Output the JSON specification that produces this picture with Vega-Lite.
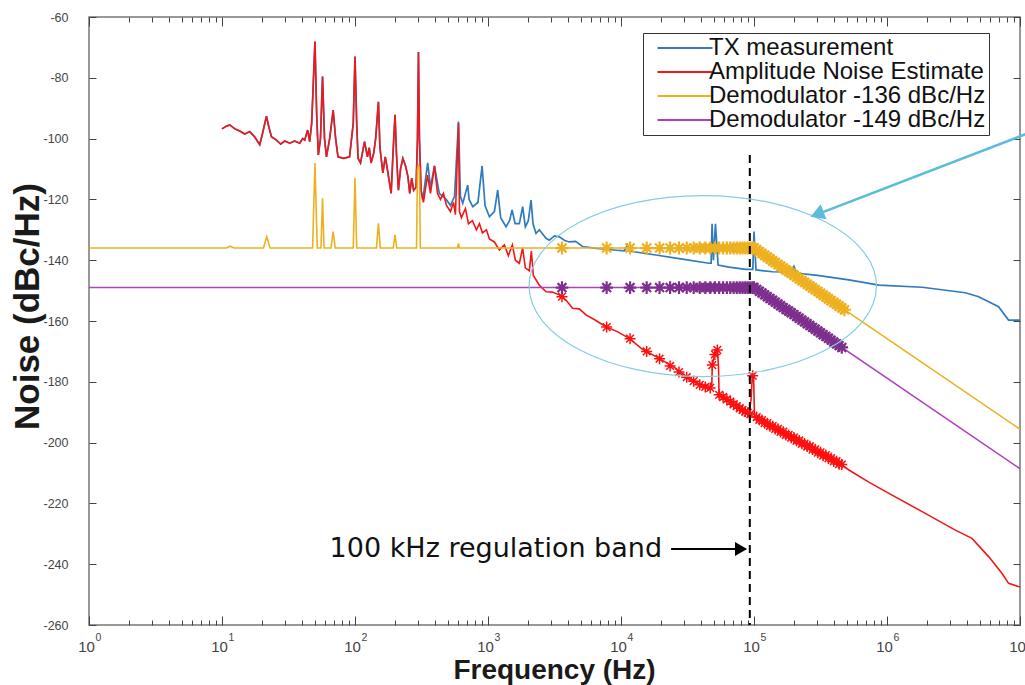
{
 "$schema": "https://vega.github.io/schema/vega-lite/v6.json",
 "width": 931, "height": 608,
 "autosize": "none",
 "padding": {"left": 89, "top": 17, "right": 5, "bottom": 60},
 "background": "white",
 "config": {"font": "Liberation Sans", "view": {"stroke": "#777", "strokeWidth": 1.5}},
 "resolve": {"axis": {"x": "independent", "y": "independent"}},
 "datasets": {
  "tx": [
   {"f":10,"v":-96.8},{"f":10.68,"v":-96},{"f":11.44,"v":-95.5},{"f":12.48,"v":-96.8},{"f":13.6,"v":-97.5},{"f":14.84,"v":-98.5},{"f":16.17,"v":-97.7},{"f":17.63,"v":-99.5},{"f":19.22,"v":-102},{"f":20.25,"v":-98},{"f":21.59,"v":-92.6},{"f":22.46,"v":-96},{"f":23.53,"v":-99.4},{"f":25.66,"v":-100.5},{"f":27.63,"v":-101.8},{"f":29.62,"v":-100.8},{"f":32.28,"v":-101.5},{"f":35.19,"v":-100.8},{"f":38.38,"v":-101.5},{"f":40.43,"v":-100},{"f":41.85,"v":-100.5},{"f":44.07,"v":-97.2},{"f":45.62,"v":-101},{"f":47.23,"v":-95},{"f":50,"v":-68.1},{"f":51.5,"v":-92},{"f":53,"v":-105.4},{"f":55,"v":-100},{"f":57,"v":-79.6},{"f":59,"v":-100},{"f":61,"v":-106},{"f":64.5,"v":-100},{"f":68.5,"v":-90.6},{"f":71.5,"v":-100},{"f":74.5,"v":-106},{"f":82,"v":-106.5},{"f":91,"v":-106},{"f":97,"v":-95},{"f":100,"v":-73},{"f":103,"v":-95},{"f":105.5,"v":-106.5},{"f":110,"v":-108},{"f":118,"v":-101},{"f":124,"v":-106},{"f":128,"v":-103},{"f":132,"v":-108},{"f":138,"v":-105},{"f":143,"v":-100},{"f":150,"v":-87.9},{"f":154,"v":-103},{"f":162,"v":-111.3},{"f":169,"v":-106},{"f":175,"v":-110},{"f":187,"v":-118},{"f":193,"v":-105},{"f":200,"v":-92.2},{"f":205,"v":-105},{"f":212,"v":-117},{"f":220,"v":-110},{"f":229,"v":-106.5},{"f":240,"v":-109},{"f":250,"v":-112.5},{"f":258,"v":-118},{"f":267,"v":-113},{"f":276,"v":-117},{"f":288,"v":-116},{"f":295,"v":-100},{"f":300,"v":-71.5},{"f":305,"v":-100},{"f":314,"v":-117},
   {"f":323,"v":-120.2},{"f":352,"v":-108},{"f":369.5,"v":-116},{"f":396,"v":-109},{"f":430,"v":-118},{"f":485,"v":-120},{"f":522,"v":-122},{"f":560,"v":-119},{"f":600,"v":-94.4},{"f":620,"v":-119},{"f":646,"v":-121.3},{"f":677,"v":-118},{"f":704,"v":-115.3},{"f":721,"v":-120},{"f":768,"v":-122.4},{"f":840,"v":-121},{"f":903,"v":-109},{"f":950,"v":-122},{"f":1025,"v":-125.7},{"f":1117,"v":-124},{"f":1183,"v":-116.9},{"f":1245,"v":-126},{"f":1367,"v":-129},{"f":1452,"v":-127},{"f":1517,"v":-123.5},{"f":1600,"v":-128},{"f":1721,"v":-128},{"f":1822,"v":-122.4},{"f":1909,"v":-129},{"f":2010,"v":-127},{"f":2107,"v":-120.2},{"f":2180,"v":-128},{"f":2296,"v":-131.2},{"f":2432,"v":-130},{"f":2731,"v":-132.8},{"f":2890,"v":-133.4},{"f":3160,"v":-132},{"f":3436,"v":-132.3},{"f":3770,"v":-133.5},{"f":4083,"v":-134},{"f":4550,"v":-133.8},{"f":5140,"v":-135.5},{"f":6293,"v":-136},{"f":7702,"v":-136.4},{"f":9700,"v":-136.8},{"f":10600,"v":-136.9},{"f":11190,"v":-135},{"f":11520,"v":-137},{"f":18280,"v":-138.3},{"f":27350,"v":-139.5},{"f":45940,"v":-141},{"f":47600,"v":-141},{"f":48400,"v":-128},{"f":49500,"v":-140},{"f":51300,"v":-128},{"f":53700,"v":-141.6},{"f":64900,"v":-142.3},{"f":86700,"v":-143},{"f":98000,"v":-143},{"f":100000,"v":-130.6},{"f":103500,"v":-143.2},{"f":137200,"v":-143.8},{"f":190000,"v":-143.9},{"f":199700,"v":-142},{"f":210000,"v":-144.3},{"f":290500,"v":-144.9},{"f":516900,"v":-146.5},{"f":868500,"v":-148.2},{"f":1836000,"v":-148.9},{"f":3880000,"v":-150.7},{"f":4890000,"v":-152},{"f":6900000,"v":-155.3},{"f":8200000,"v":-159.7},{"f":10000000,"v":-159.7}
  ],
  "amp": [
   {"f":10,"v":-96.8},{"f":10.68,"v":-96},{"f":11.44,"v":-95.5},{"f":12.48,"v":-96.8},{"f":13.6,"v":-97.5},{"f":14.84,"v":-98.5},{"f":16.17,"v":-97.7},{"f":17.63,"v":-99.5},{"f":19.22,"v":-102},{"f":20.25,"v":-98},{"f":21.59,"v":-92.6},{"f":22.46,"v":-96},{"f":23.53,"v":-99.4},{"f":25.66,"v":-100.5},{"f":27.63,"v":-101.8},{"f":29.62,"v":-100.8},{"f":32.28,"v":-101.5},{"f":35.19,"v":-100.8},{"f":38.38,"v":-101.5},{"f":40.43,"v":-100},{"f":41.85,"v":-100.5},{"f":44.07,"v":-97.2},{"f":45.62,"v":-101},{"f":47.23,"v":-95},{"f":50,"v":-68.1},{"f":51.5,"v":-92},{"f":53,"v":-105.4},{"f":55,"v":-100},{"f":57,"v":-79.6},{"f":59,"v":-100},{"f":61,"v":-106},{"f":64.5,"v":-100},{"f":68.5,"v":-90.6},{"f":71.5,"v":-100},{"f":74.5,"v":-106},{"f":82,"v":-106.5},{"f":91,"v":-106},{"f":97,"v":-95},{"f":100,"v":-73},{"f":103,"v":-95},{"f":105.5,"v":-106.5},{"f":110,"v":-108},{"f":118,"v":-101},{"f":124,"v":-106},{"f":128,"v":-103},{"f":132,"v":-108},{"f":138,"v":-105},{"f":143,"v":-100},{"f":150,"v":-87.9},{"f":154,"v":-103},{"f":162,"v":-111.3},{"f":169,"v":-106},{"f":175,"v":-110},{"f":187,"v":-118},{"f":193,"v":-105},{"f":200,"v":-92.2},{"f":205,"v":-105},{"f":212,"v":-117},{"f":220,"v":-110},{"f":229,"v":-106.5},{"f":240,"v":-109},{"f":250,"v":-112.5},{"f":258,"v":-118},{"f":267,"v":-113},{"f":276,"v":-117},{"f":288,"v":-116},{"f":295,"v":-100},{"f":300,"v":-71.5},{"f":305,"v":-100},{"f":314,"v":-117},
   {"f":327,"v":-121},{"f":351,"v":-112},{"f":369.5,"v":-118},{"f":396,"v":-109},{"f":417,"v":-118},{"f":439,"v":-120},{"f":462.7,"v":-118},{"f":487.3,"v":-122},{"f":522,"v":-124},{"f":550,"v":-121},{"f":569,"v":-125},{"f":600,"v":-95},{"f":610,"v":-124},{"f":631,"v":-126},{"f":677,"v":-123},{"f":713,"v":-128},{"f":764,"v":-127},{"f":818,"v":-130},{"f":862,"v":-128},{"f":908,"v":-131},{"f":973,"v":-130},{"f":1025,"v":-133},{"f":1117,"v":-134},{"f":1218,"v":-136.6},{"f":1328,"v":-135},{"f":1423,"v":-138.5},{"f":1525,"v":-135},{"f":1606,"v":-140},{"f":1721,"v":-141},{"f":1822,"v":-136},{"f":1909,"v":-142.5},{"f":2046,"v":-143.5},{"f":2118,"v":-137},{"f":2192,"v":-145},{"f":2432,"v":-148.2},{"f":2731,"v":-150.4},{"f":3045,"v":-150.5},{"f":3436,"v":-151.4},{"f":3857,"v":-153.1},{"f":4324,"v":-155.8},{"f":4856,"v":-156},{"f":5452,"v":-158},{"f":6293,"v":-159.5},{"f":7702,"v":-161.9},{"f":9365,"v":-163.5},{"f":11525,"v":-165.7},{"f":14503,"v":-169.3},{"f":19360,"v":-172.3},{"f":25840,"v":-175.6},{"f":30710,"v":-178.3},{"f":39800,"v":-181.1},{"f":45940,"v":-182.1},{"f":48100,"v":-181.5},{"f":48600,"v":-174.5},{"f":50900,"v":-170.5},{"f":53000,"v":-169},{"f":54100,"v":-175},{"f":54600,"v":-184.3},{"f":57800,"v":-184.9},{"f":70800,"v":-187.5},{"f":91700,"v":-190.4},{"f":95000,"v":-186},{"f":97100,"v":-178},{"f":99200,"v":-178},{"f":100900,"v":-191.5},{"f":154500,"v":-195.3},{"f":217800,"v":-199.2},{"f":307600,"v":-203.2},{"f":460000,"v":-207.4},{"f":516800,"v":-209},{"f":730000,"v":-213},{"f":1033000,"v":-216.7},{"f":1836000,"v":-222.7},{"f":3266000,"v":-228.8},{"f":4355000,"v":-231.5},{"f":5810000,"v":-237.5},{"f":7310000,"v":-243},{"f":8210000,"v":-246.3},{"f":10000000,"v":-247.5}
  ],
  "d136": [
   {"f":1,"v":-136},{"f":10.8,"v":-136},{"f":11.5,"v":-135.4},{"f":12.3,"v":-136},{"f":20.5,"v":-136},{"f":21.7,"v":-132.3},{"f":23,"v":-136},{"f":48,"v":-136},{"f":50,"v":-108},{"f":52,"v":-136},{"f":55.5,"v":-136},{"f":57,"v":-119.6},{"f":58.5,"v":-136},{"f":66,"v":-136},{"f":68.5,"v":-130.6},{"f":71,"v":-136},{"f":97,"v":-136},{"f":100,"v":-113},{"f":103,"v":-136},{"f":145,"v":-136},{"f":150,"v":-127.9},{"f":155,"v":-136},{"f":194,"v":-136},{"f":200,"v":-131.7},{"f":206,"v":-136},{"f":290,"v":-136},{"f":295,"v":-110},{"f":300,"v":-109},{"f":305,"v":-110},{"f":310,"v":-136},{"f":590,"v":-136},{"f":600,"v":-134.5},{"f":610,"v":-136},{"f":100000,"v":-136},{"f":10000000,"v":-195.6}
  ],
  "d149": [{"f":1,"v":-149},{"f":100000,"v":-149},{"f":10000000,"v":-208.6}],
  "mk": [
   {"s":"y","f":3600,"v":-136},{"s":"y","f":7800,"v":-136},{"s":"y","f":11700,"v":-136},{"s":"y","f":15600,"v":-136},{"s":"y","f":19500,"v":-136},{"s":"y","f":23400,"v":-136},{"s":"y","f":27300,"v":-136},{"s":"y","f":31200,"v":-136},{"s":"y","f":35200,"v":-136},{"s":"y","f":39100,"v":-136},{"s":"y","f":43000,"v":-136},{"s":"y","f":46900,"v":-136},{"s":"y","f":50800,"v":-136},{"s":"y","f":54700,"v":-136},{"s":"y","f":58600,"v":-136},{"s":"y","f":62500,"v":-136},{"s":"y","f":66400,"v":-136},{"s":"y","f":70300,"v":-136},{"s":"y","f":74200,"v":-136},{"s":"y","f":78100,"v":-136},{"s":"y","f":82000,"v":-136},{"s":"y","f":85900,"v":-136},{"s":"y","f":89800,"v":-136},{"s":"y","f":93800,"v":-136},{"s":"y","f":97700,"v":-136},
   {"s":"y","f":100000,"v":-136.0},{"s":"y","f":104713,"v":-136.6},{"s":"y","f":109648,"v":-137.2},{"s":"y","f":114815,"v":-137.8},{"s":"y","f":120226,"v":-138.4},{"s":"y","f":125893,"v":-139.0},{"s":"y","f":131826,"v":-139.6},{"s":"y","f":138038,"v":-140.2},{"s":"y","f":144544,"v":-140.8},{"s":"y","f":151356,"v":-141.4},{"s":"y","f":158489,"v":-142.0},{"s":"y","f":165959,"v":-142.6},{"s":"y","f":173780,"v":-143.2},{"s":"y","f":181970,"v":-143.7},{"s":"y","f":190546,"v":-144.3},{"s":"y","f":199526,"v":-144.9},{"s":"y","f":208930,"v":-145.5},{"s":"y","f":218776,"v":-146.1},{"s":"y","f":229087,"v":-146.7},{"s":"y","f":239883,"v":-147.3},{"s":"y","f":251189,"v":-147.9},{"s":"y","f":263027,"v":-148.5},{"s":"y","f":275423,"v":-149.1},{"s":"y","f":288403,"v":-149.7},{"s":"y","f":301995,"v":-150.3},{"s":"y","f":316228,"v":-150.9},{"s":"y","f":331131,"v":-151.5},{"s":"y","f":346737,"v":-152.1},{"s":"y","f":363078,"v":-152.7},{"s":"y","f":380189,"v":-153.3},{"s":"y","f":398107,"v":-153.9},{"s":"y","f":416869,"v":-154.5},{"s":"y","f":436516,"v":-155.1},{"s":"y","f":457088,"v":-155.7},{"s":"y","f":478630,"v":-156.3},
   {"s":"p","f":3600,"v":-149},{"s":"p","f":7800,"v":-149},{"s":"p","f":11700,"v":-149},{"s":"p","f":15600,"v":-149},{"s":"p","f":19500,"v":-149},{"s":"p","f":23400,"v":-149},{"s":"p","f":27300,"v":-149},{"s":"p","f":31200,"v":-149},{"s":"p","f":35200,"v":-149},{"s":"p","f":39100,"v":-149},{"s":"p","f":43000,"v":-149},{"s":"p","f":46900,"v":-149},{"s":"p","f":50800,"v":-149},{"s":"p","f":54700,"v":-149},{"s":"p","f":58600,"v":-149},{"s":"p","f":62500,"v":-149},{"s":"p","f":66400,"v":-149},{"s":"p","f":70300,"v":-149},{"s":"p","f":74200,"v":-149},{"s":"p","f":78100,"v":-149},{"s":"p","f":82000,"v":-149},{"s":"p","f":85900,"v":-149},{"s":"p","f":89800,"v":-149},{"s":"p","f":93800,"v":-149},{"s":"p","f":97700,"v":-149},
   {"s":"p","f":100000,"v":-149.0},{"s":"p","f":104713,"v":-149.6},{"s":"p","f":109648,"v":-150.2},{"s":"p","f":114815,"v":-150.8},{"s":"p","f":120226,"v":-151.4},{"s":"p","f":125893,"v":-152.0},{"s":"p","f":131826,"v":-152.6},{"s":"p","f":138038,"v":-153.2},{"s":"p","f":144544,"v":-153.8},{"s":"p","f":151356,"v":-154.4},{"s":"p","f":158489,"v":-155.0},{"s":"p","f":165959,"v":-155.6},{"s":"p","f":173780,"v":-156.2},{"s":"p","f":181970,"v":-156.7},{"s":"p","f":190546,"v":-157.3},{"s":"p","f":199526,"v":-157.9},{"s":"p","f":208930,"v":-158.5},{"s":"p","f":218776,"v":-159.1},{"s":"p","f":229087,"v":-159.7},{"s":"p","f":239883,"v":-160.3},{"s":"p","f":251189,"v":-160.9},{"s":"p","f":263027,"v":-161.5},{"s":"p","f":275423,"v":-162.1},{"s":"p","f":288403,"v":-162.7},{"s":"p","f":301995,"v":-163.3},{"s":"p","f":316228,"v":-163.9},{"s":"p","f":331131,"v":-164.5},{"s":"p","f":346737,"v":-165.1},{"s":"p","f":363078,"v":-165.7},{"s":"p","f":380189,"v":-166.3},{"s":"p","f":398107,"v":-166.9},{"s":"p","f":416869,"v":-167.5},{"s":"p","f":436516,"v":-168.1},{"s":"p","f":457088,"v":-168.7},
   {"s":"a","f":3600,"v":-152},{"s":"a","f":7800,"v":-162},{"s":"a","f":11700,"v":-165.8},{"s":"a","f":15600,"v":-170},{"s":"a","f":19500,"v":-172.4},{"s":"a","f":23400,"v":-174.8},{"s":"a","f":27300,"v":-176.8},{"s":"a","f":31200,"v":-178.5},{"s":"a","f":35200,"v":-179.8},{"s":"a","f":39100,"v":-181},{"s":"a","f":43000,"v":-181.7},{"s":"a","f":46900,"v":-182},{"s":"a","f":48600,"v":-174.5},{"s":"a","f":50800,"v":-171},{"s":"a","f":53000,"v":-169.5},{"s":"a","f":54700,"v":-184.3},{"s":"a","f":58600,"v":-185},{"s":"a","f":62500,"v":-185.8},{"s":"a","f":66400,"v":-186.5},{"s":"a","f":70300,"v":-187.4},{"s":"a","f":74200,"v":-188},{"s":"a","f":78100,"v":-188.7},{"s":"a","f":82000,"v":-189.3},{"s":"a","f":85900,"v":-189.8},{"s":"a","f":89800,"v":-190.2},{"s":"a","f":93800,"v":-190.6},{"s":"a","f":97700,"v":-178},
   {"s":"a","f":104713,"v":-191.6},{"s":"a","f":109648,"v":-192.5},{"s":"a","f":114815,"v":-192.6},{"s":"a","f":120226,"v":-193.6},{"s":"a","f":125893,"v":-193.6},{"s":"a","f":131826,"v":-194.6},{"s":"a","f":138038,"v":-194.6},{"s":"a","f":144544,"v":-195.5},{"s":"a","f":151356,"v":-195.5},{"s":"a","f":158489,"v":-196.5},{"s":"a","f":165959,"v":-196.4},{"s":"a","f":173780,"v":-197.5},{"s":"a","f":181970,"v":-197.5},{"s":"a","f":190546,"v":-198.4},{"s":"a","f":199526,"v":-198.3},{"s":"a","f":208930,"v":-199.4},{"s":"a","f":218776,"v":-199.3},{"s":"a","f":229087,"v":-200.4},{"s":"a","f":239883,"v":-200.3},{"s":"a","f":251189,"v":-201.3},{"s":"a","f":263027,"v":-201.2},{"s":"a","f":275423,"v":-202.3},{"s":"a","f":288403,"v":-202.2},{"s":"a","f":301995,"v":-203.3},{"s":"a","f":316228,"v":-203.2},{"s":"a","f":331131,"v":-204.3},{"s":"a","f":346737,"v":-204.1},{"s":"a","f":363078,"v":-205.2},{"s":"a","f":380189,"v":-205.1},{"s":"a","f":398107,"v":-206.2},{"s":"a","f":416869,"v":-206.1},{"s":"a","f":436516,"v":-207.1},{"s":"a","f":457088,"v":-207.2}
  ],
  "vline": [{"f":93000,"v":-105.4,"v2":-260}],
  "ellipse": [{"f":41200,"v":-148.5}],
  "callout": [{"f":13800000,"v":-96.9,"f2":298000,"v2":-124.9}],
  "bandarrow": [{"f":23800,"v":-235,"f2":79900}],
  "bandtext": [{"f":64.4,"v":-235,"label":"100 kHz regulation band"}]
 },
 "layer": [
  {"data":{"name":"tx"},"mark":{"type":"line","strokeWidth":1.7},
   "encoding":{
    "x":{"field":"f","type":"quantitative","scale":{"type":"log","domain":[1,10000000],"nice":false},
     "axis":{"orient":"bottom","values":[1,2,3,4,5,6,7,8,9,10,20,30,40,50,60,70,80,90,100,200,300,400,500,600,700,800,900,1000,2000,3000,4000,5000,6000,7000,8000,9000,10000,20000,30000,40000,50000,60000,70000,80000,90000,100000,200000,300000,400000,500000,600000,700000,800000,900000,1000000,2000000,3000000,4000000,5000000,6000000,7000000,8000000,9000000,10000000],
      "labelExpr":"abs(log(datum.value)/LN10 - round(log(datum.value)/LN10)) < 0.001 ? '10' : ''",
      "tickSize":{"condition":{"test":"abs(log(datum.value)/LN10 - round(log(datum.value)/LN10)) < 0.001","value":-9},"value":-5},
      "tickColor":"#444","domain":false,"grid":false,"labelColor":"#444","labelFont":"Liberation Sans","labelFontSize":15,"labelPadding":23,"labelOffset":-3,"labelFlush":false,"labelOverlap":false,
      "title":"Frequency (Hz)","titleFontSize":28,"titleFontWeight":"bold","titleColor":"#1a1a1a","titleX":465,"titleY":53,"titleBaseline":"alphabetic"}},
    "y":{"field":"v","type":"quantitative","scale":{"domain":[-260,-60],"nice":false,"zero":false},
     "axis":{"orient":"left","values":[-260,-240,-220,-200,-180,-160,-140,-120,-100,-80,-60],"labelExpr":"replace(datum.label, '−', '-')","tickSize":-7,"tickColor":"#444","domain":false,"grid":false,"labelColor":"#444","labelFontSize":12.5,"labelPadding":28,
      "title":"Noise (dBc/Hz)","titleFontSize":35,"titleFontWeight":"bold","titleColor":"#1a1a1a","titleX":-62,"titleY":289,"titleAngle":-90,"titleBaseline":"middle","titleAlign":"center"}},
    "color":{"datum":"TX measurement","type":"nominal",
     "scale":{"domain":["TX measurement","Amplitude Noise Estimate","Demodulator -136 dBc/Hz","Demodulator -149 dBc/Hz"],"range":["#2f7bbf","#f01818","#EDB120","#b040c0"]},
     "legend":{"orient":"none","legendX":554,"legendY":16,"title":null,"symbolType":"M-1,0L9,0","symbolSize":121,"symbolStrokeWidth":2,"symbolOffset":5,"labelOffset":34,"labelFontSize":24,"labelColor":"#111","labelFont":"Liberation Sans","labelLimit":400,"rowPadding":0,"padding":3,"strokeColor":"#333","fillColor":"white"}}
   }},
  {"data":{"name":"amp"},"mark":{"type":"line","strokeWidth":1.6},
   "encoding":{"x":{"field":"f","type":"quantitative","axis":null},"y":{"field":"v","type":"quantitative","axis":null},"color":{"datum":"Amplitude Noise Estimate","type":"nominal"}}},
  {"data":{"name":"mk"},"transform":[{"filter":"datum.s == 'a'"}],
   "mark":{"type":"point","shape":"M-1,0L1,0M0,-1L0,1M-0.7,-0.7L0.7,0.7M-0.7,0.7L0.7,-0.7","size":121,"filled":false,"strokeWidth":1.5,"color":"#ff1010","opacity":1},
   "encoding":{"x":{"field":"f","type":"quantitative","axis":null},"y":{"field":"v","type":"quantitative","axis":null}}},
  {"data":{"name":"d136"},"mark":{"type":"line","strokeWidth":1.6},
   "encoding":{"x":{"field":"f","type":"quantitative","axis":null},"y":{"field":"v","type":"quantitative","axis":null},"color":{"datum":"Demodulator -136 dBc/Hz","type":"nominal"}}},
  {"data":{"name":"mk"},"transform":[{"filter":"datum.s == 'y'"}],
   "mark":{"type":"point","shape":"M-1,0L1,0M0,-1L0,1M-0.7,-0.7L0.7,0.7M-0.7,0.7L0.7,-0.7","size":169,"filled":false,"strokeWidth":2.2,"color":"#EDB120","opacity":1},
   "encoding":{"x":{"field":"f","type":"quantitative","axis":null},"y":{"field":"v","type":"quantitative","axis":null}}},
  {"data":{"name":"d149"},"mark":{"type":"line","strokeWidth":1.6},
   "encoding":{"x":{"field":"f","type":"quantitative","axis":null},"y":{"field":"v","type":"quantitative","axis":null},"color":{"datum":"Demodulator -149 dBc/Hz","type":"nominal"}}},
  {"data":{"name":"mk"},"transform":[{"filter":"datum.s == 'p'"}],
   "mark":{"type":"point","shape":"M-1,0L1,0M0,-1L0,1M-0.7,-0.7L0.7,0.7M-0.7,0.7L0.7,-0.7","size":160,"filled":false,"strokeWidth":2.2,"color":"#7E2F8E","opacity":1},
   "encoding":{"x":{"field":"f","type":"quantitative","axis":null},"y":{"field":"v","type":"quantitative","axis":null}}},
  {"data":{"name":"vline"},"mark":{"type":"rule","strokeDash":[8,5],"strokeWidth":2,"color":"#000"},
   "encoding":{
    "x":{"field":"f","type":"quantitative","axis":{"orient":"top","values":[1,2,3,4,5,6,7,8,9,10,20,30,40,50,60,70,80,90,100,200,300,400,500,600,700,800,900,1000,2000,3000,4000,5000,6000,7000,8000,9000,10000,20000,30000,40000,50000,60000,70000,80000,90000,100000,200000,300000,400000,500000,600000,700000,800000,900000,1000000,2000000,3000000,4000000,5000000,6000000,7000000,8000000,9000000,10000000],"labels":false,"tickSize":{"condition":{"test":"abs(log(datum.value)/LN10 - round(log(datum.value)/LN10)) < 0.001","value":-9},"value":-5},"tickColor":"#444","domain":false,"grid":false,"title":null}},
    "y":{"field":"v","type":"quantitative","axis":{"orient":"right","values":[-260,-240,-220,-200,-180,-160,-140,-120,-100,-80,-60],"labels":false,"tickSize":-7,"tickColor":"#444","domain":false,"grid":false,"title":null}},
    "y2":{"field":"v2"}}},
  {"data":{"name":"ellipse"},"mark":{"type":"point","shape":"M-1,0A1,0.521,0,1,1,1,0A1,0.521,0,1,1,-1,0Z","size":120687,"filled":false,"strokeWidth":1.2,"color":"#86cde3","opacity":1},
   "encoding":{
    "x":{"field":"f","type":"quantitative","axis":{"orient":"bottom","values":[1,10,100,1000,10000,100000,1000000,10000000],"labelExpr":"'' + round(log(datum.value)/LN10)","ticks":false,"domain":false,"grid":false,"labelColor":"#444","labelFont":"Liberation Sans","labelFontSize":10.5,"labelPadding":7,"labelOffset":9,"labelFlush":false,"labelOverlap":false,"title":null}},
    "y":{"field":"v","type":"quantitative","axis":null}}},
  {"data":{"name":"callout"},"mark":{"type":"rule","strokeWidth":2.5,"color":"#5bbcd9"},
   "encoding":{"x":{"field":"f","type":"quantitative","axis":null},"y":{"field":"v","type":"quantitative","axis":null},"x2":{"field":"f2"},"y2":{"field":"v2"}}},
  {"data":{"name":"callout"},"mark":{"type":"point","shape":"triangle-up","angle":249,"size":256,"filled":true,"color":"#5bbcd9","opacity":1},
   "encoding":{"x":{"field":"f2","type":"quantitative","axis":null},"y":{"field":"v2","type":"quantitative","axis":null}}},
  {"data":{"name":"bandarrow"},"mark":{"type":"rule","strokeWidth":2,"color":"#000"},
   "encoding":{"x":{"field":"f","type":"quantitative","axis":null},"y":{"field":"v","type":"quantitative","axis":null},"x2":{"field":"f2"}}},
  {"data":{"name":"bandarrow"},"mark":{"type":"point","shape":"triangle-up","angle":90,"size":196,"filled":true,"color":"#000","opacity":1},
   "encoding":{"x":{"field":"f2","type":"quantitative","axis":null},"y":{"field":"v","type":"quantitative","axis":null}}},
  {"data":{"name":"bandtext"},"mark":{"type":"text","font":"DejaVu Sans","fontSize":27,"align":"left","baseline":"middle","color":"#111"},
   "encoding":{"x":{"field":"f","type":"quantitative","axis":null},"y":{"field":"v","type":"quantitative","axis":null},"text":{"field":"label"}}}
 ]
}
